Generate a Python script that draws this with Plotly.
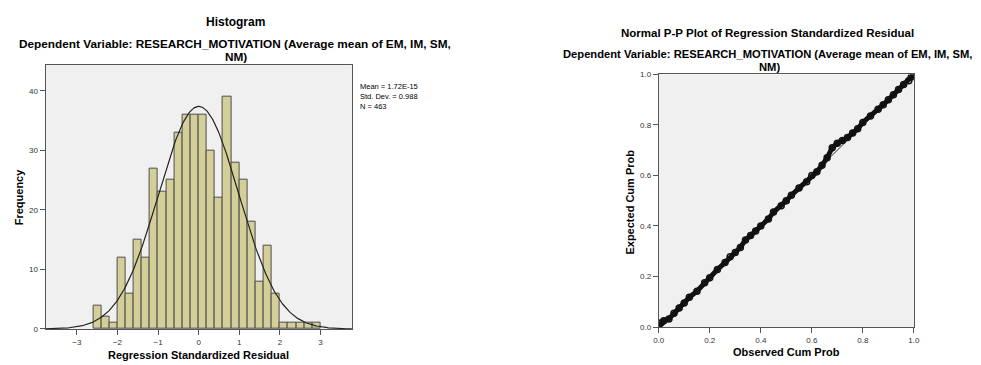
import numpy as np
import plotly.graph_objects as go

# ---------------- data ----------------
bin_lows = [-2.6, -2.4, -2.2, -2.0, -1.8, -1.6, -1.4, -1.2, -1.0, -0.8,
            -0.6, -0.4, -0.2, 0.0, 0.2, 0.4, 0.6, 0.8, 1.0, 1.2,
            1.4, 1.6, 1.8, 2.0, 2.2, 2.4, 2.6, 2.8]
counts = [4, 2, 1, 12, 6, 15, 12, 27, 23, 25,
          33, 36, 36, 36, 30, 22, 39, 28, 25, 18,
          8, 14, 6, 1, 1, 1, 1, 1]
BIN_WIDTH = 0.2
MEAN = 1.72e-15
SD = 0.988
N = 463

hist_xticks = [-3, -2, -1, 0, 1, 2, 3]
hist_yticks = [0, 10, 20, 30, 40]

pp_observed = [0.0, 0.01, 0.02, 0.04, 0.06, 0.08, 0.10, 0.12, 0.15, 0.18,
               0.20, 0.23, 0.26, 0.28, 0.30, 0.32, 0.34, 0.36, 0.38, 0.40,
               0.43, 0.45, 0.48, 0.50, 0.52, 0.55, 0.58, 0.60, 0.62, 0.64,
               0.66, 0.68, 0.70, 0.72, 0.74, 0.76, 0.78, 0.80, 0.83, 0.86,
               0.88, 0.90, 0.92, 0.94, 0.96, 0.98, 0.99, 1.0]
pp_expected = [0.005, 0.017, 0.025, 0.032, 0.055, 0.075, 0.095, 0.118, 0.142, 0.175,
               0.195, 0.228, 0.255, 0.278, 0.295, 0.315, 0.345, 0.362, 0.38, 0.40,
               0.428, 0.455, 0.48, 0.50, 0.522, 0.55, 0.575, 0.60, 0.615, 0.64,
               0.67, 0.71, 0.728, 0.738, 0.75, 0.768, 0.785, 0.81, 0.835, 0.862,
               0.88, 0.90, 0.92, 0.94, 0.96, 0.975, 0.99, 1.0]
pp_ticks = [0.0, 0.2, 0.4, 0.6, 0.8, 1.0]

W, H = 981, 365
OFF = 8  # page body margin
FONT = "Liberation Sans, Arial, sans-serif"
AX = "#555555"

def px(x):
    return (x - OFF) / W

def py(y):
    return 1 - (y - OFF) / H

fig = go.Figure()

# histogram bars
fig.add_trace(go.Bar(x=bin_lows, y=counts, width=BIN_WIDTH, offset=0,
                     marker=dict(color="#d4cf98", line=dict(color="#4d4d4d", width=1)),
                     xaxis="x", yaxis="y", showlegend=False, hoverinfo="skip"))

# fitted normal curve
xc = np.linspace(-3.8, 3.8, 400)
yc = N * BIN_WIDTH * np.exp(-0.5 * ((xc - MEAN) / SD) ** 2) / (SD * np.sqrt(2 * np.pi))
fig.add_trace(go.Scatter(x=xc, y=yc, mode="lines", line=dict(color="#222222", width=1.2),
                         xaxis="x", yaxis="y", showlegend=False, hoverinfo="skip"))

# P-P reference diagonal
fig.add_trace(go.Scatter(x=[0, 1], y=[0, 1], mode="lines", line=dict(color="#333333", width=1),
                         xaxis="x2", yaxis="y2", showlegend=False, hoverinfo="skip"))
# P-P points
fig.add_trace(go.Scatter(x=pp_observed, y=pp_expected, mode="lines+markers",
                         line=dict(color="#111111", width=5),
                         marker=dict(symbol="circle-open", size=6, color="#111111",
                                     line=dict(width=1.5)),
                         xaxis="x2", yaxis="y2", showlegend=False, hoverinfo="skip"))

tickfont = dict(family=FONT, size=8, color="#333333")
common = dict(showline=True, mirror=True, linecolor=AX, linewidth=1, showgrid=False,
              zeroline=False, ticks="outside", ticklen=5, tickcolor=AX, tickfont=tickfont,
              fixedrange=True)

fig.update_layout(
    width=W, height=H, margin=dict(l=0, r=0, t=0, b=0),
    paper_bgcolor="white", plot_bgcolor="#f0f0f0",
    bargap=0,
    xaxis=dict(domain=[px(40), px(350)], range=[-3.77, 3.77], tickvals=hist_xticks,
               anchor="y", **common),
    yaxis=dict(domain=[py(333), py(62)], range=[0, 44.4], tickvals=hist_yticks,
               anchor="x", **common),
    xaxis2=dict(domain=[px(660.7), px(919)], range=[0, 1], tickvals=pp_ticks,
                tickformat=".1f", anchor="y2", **common),
    yaxis2=dict(domain=[py(331), py(72)], range=[0, 1], tickvals=pp_ticks,
                tickformat=".1f", anchor="x2", **common),
)

def ann(text, x, y, size, bold=True, xanchor="center", angle=0):
    fig.add_annotation(text=f"<b>{text}</b>" if bold else text, x=px(x), y=py(y),
                       xref="paper", yref="paper", showarrow=False, xanchor=xanchor,
                       yanchor="middle", textangle=angle,
                       font=dict(family=FONT, size=size, color="#000000"))

sub1 = "Dependent Variable: RESEARCH_MOTIVATION (Average mean of EM, IM, SM,"
# histogram titles
ann("Histogram", 232, 18, 12)
ann(sub1, 232, 41, 11.8)
ann("NM)", 233, 54, 11.8)
# P-P titles
ann("Normal P-P Plot of Regression Standardized Residual", 771, 30, 11.5)
ann(sub1, 771, 51.5, 11.2)
ann("NM)", 773, 64, 11.2)

# axis titles
ann("Regression Standardized Residual", 195, 360, 11)
ann("Frequency", 13, 197, 11, angle=-90)
ann("Observed Cum Prob", 790, 357, 11)
ann("Expected Cum Prob", 632, 203, 11, angle=-90)

# stats box text
fig.add_annotation(text="Mean = 1.72E-15<br>Std. Dev. = 0.988<br>N = 463",
                   x=px(356), y=py(78), xref="paper", yref="paper", showarrow=False,
                   xanchor="left", yanchor="top", align="left",
                   font=dict(family=FONT, size=7.5, color="#000000"))

fig.write_html("out.html")
